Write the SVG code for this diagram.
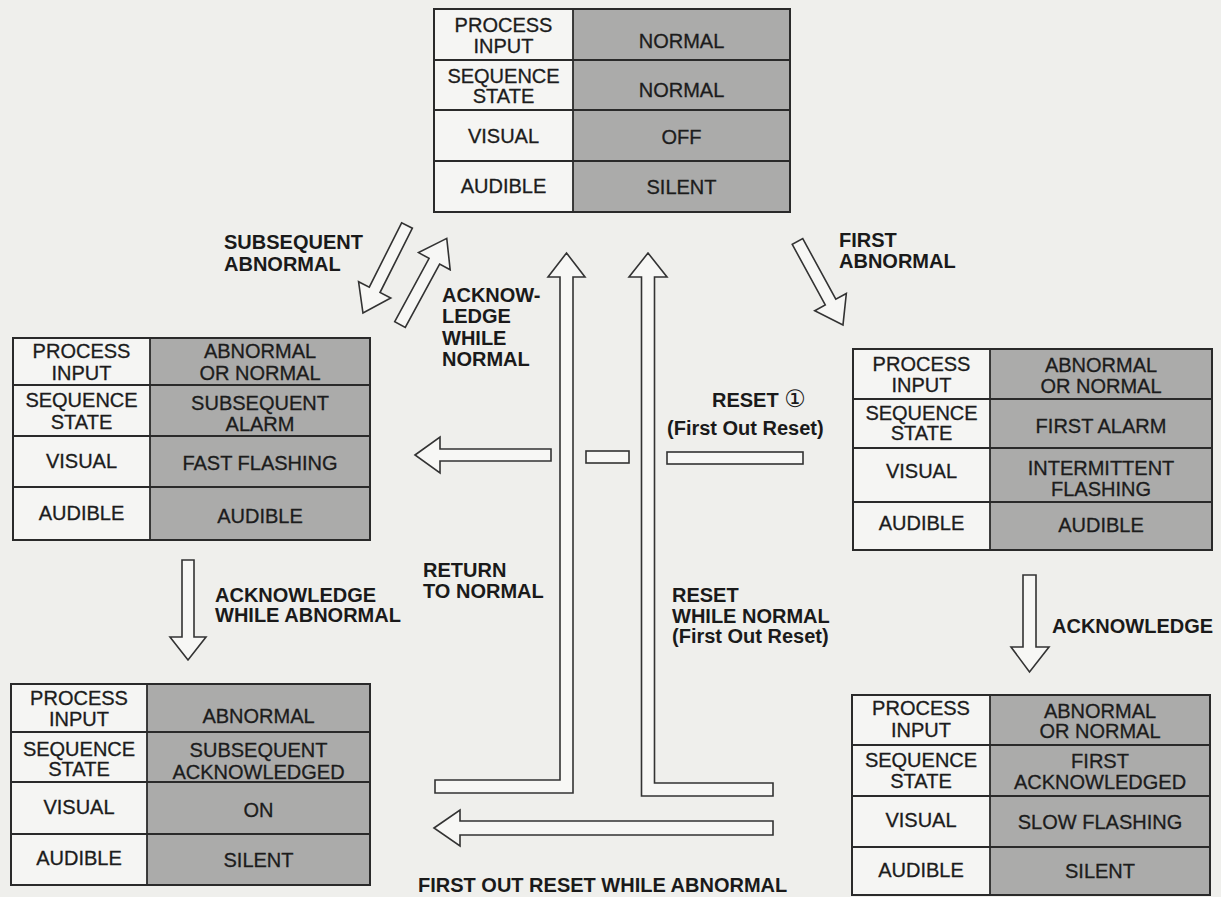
<svg xmlns="http://www.w3.org/2000/svg" width="1221" height="897" viewBox="0 0 1221 897">
<style>
.bg{fill:#efefec}
.lc{fill:#f5f5f3}
.rc{fill:#ababaa}
.box{fill:none;stroke:#2a2a2a;stroke-width:2}
.rl{stroke:#2a2a2a;stroke-width:1.8}
.t{font-family:"Liberation Sans",Arial,sans-serif;font-size:20px;fill:#1c1c1c;stroke:#1c1c1c;stroke-width:0.3;text-anchor:middle}
.lab{font-family:"Liberation Sans",Arial,sans-serif;font-size:20px;font-weight:bold;fill:#1a1a1a}
.arr{fill:#f7f7f5;stroke:#333;stroke-width:1.6;stroke-linejoin:miter}
</style>
<rect class="bg" x="0" y="0" width="1221" height="897"/>

<g id="connectors">
<polygon class="arr" transform="translate(407,225.5) rotate(116.7)" points="0,-6 72,-6 72,-18 98,0 72,18 72,6 0,6"/>
<polygon class="arr" transform="translate(400,324.5) rotate(-61.5)" points="0,-6 72,-6 72,-18 98,0 72,18 72,6 0,6"/>
<polygon class="arr" transform="translate(797.5,241.5) rotate(61.4)" points="0,-6 69,-6 69,-18 95,0 69,18 69,6 0,6"/>
<polygon class="arr" points="182,560 194,560 194,637 206,637 188,660 170,637 182,637"/>
<polygon class="arr" points="1023,575 1036,575 1036,647 1049,647 1029.5,672 1011,647 1023,647"/>
<polygon class="arr" points="415,455 440,437 440,449 551,449 551,461 440,461 440,473"/>
<rect class="arr" x="586" y="451" width="43" height="12"/>
<rect class="arr" x="667" y="452" width="136" height="12"/>
<polygon class="arr" points="566.5,253 585,277 573,277 573,793 435,793 435,780 560,780 560,277 548,277"/>
<polygon class="arr" points="648,253 667,277 654.5,277 654.5,783 773,783 773,796 641.5,796 641.5,277 629,277"/>
<polygon class="arr" points="434,828 460,810 460,821 773,821 773,835 460,835 460,846"/>
</g>

<g id="node-normal">
<rect class="lc" x="434" y="9" width="139" height="203"/>
<rect class="rc" x="573" y="9" width="217" height="203"/>
<line class="rl" x1="434" y1="60" x2="790" y2="60"/>
<line class="rl" x1="434" y1="110" x2="790" y2="110"/>
<line class="rl" x1="434" y1="161" x2="790" y2="161"/>
<line class="rl" x1="573" y1="9" x2="573" y2="212"/>
<rect class="box" x="434" y="9" width="356" height="203"/>
<text class="t" x="503.5" y="32">PROCESS</text>
<text class="t" x="503.5" y="53">INPUT</text>
<text class="t" x="681.5" y="48">NORMAL</text>
<text class="t" x="503.5" y="83">SEQUENCE</text>
<text class="t" x="503.5" y="103">STATE</text>
<text class="t" x="681.5" y="97">NORMAL</text>
<text class="t" x="503.5" y="143">VISUAL</text>
<text class="t" x="681.5" y="144">OFF</text>
<text class="t" x="503.5" y="193">AUDIBLE</text>
<text class="t" x="681.5" y="194">SILENT</text>
</g>

<g id="node-subsequent-alarm">
<rect class="lc" x="13" y="338" width="137" height="202"/>
<rect class="rc" x="150" y="338" width="220" height="202"/>
<line class="rl" x1="13" y1="385" x2="370" y2="385"/>
<line class="rl" x1="13" y1="436" x2="370" y2="436"/>
<line class="rl" x1="13" y1="487" x2="370" y2="487"/>
<line class="rl" x1="150" y1="338" x2="150" y2="540"/>
<rect class="box" x="13" y="338" width="357" height="202"/>
<text class="t" x="81.5" y="358">PROCESS</text>
<text class="t" x="81.5" y="380">INPUT</text>
<text class="t" x="260" y="358">ABNORMAL</text>
<text class="t" x="260" y="380">OR NORMAL</text>
<text class="t" x="81.5" y="407">SEQUENCE</text>
<text class="t" x="81.5" y="429">STATE</text>
<text class="t" x="260" y="410">SUBSEQUENT</text>
<text class="t" x="260" y="431">ALARM</text>
<text class="t" x="81.5" y="468">VISUAL</text>
<text class="t" x="260" y="470">FAST FLASHING</text>
<text class="t" x="81.5" y="520">AUDIBLE</text>
<text class="t" x="260" y="523">AUDIBLE</text>
</g>

<g id="node-first-alarm">
<rect class="lc" x="853" y="349" width="137" height="201"/>
<rect class="rc" x="990" y="349" width="222" height="201"/>
<line class="rl" x1="853" y1="399" x2="1212" y2="399"/>
<line class="rl" x1="853" y1="448" x2="1212" y2="448"/>
<line class="rl" x1="853" y1="502" x2="1212" y2="502"/>
<line class="rl" x1="990" y1="349" x2="990" y2="550"/>
<rect class="box" x="853" y="349" width="359" height="201"/>
<text class="t" x="921.5" y="371">PROCESS</text>
<text class="t" x="921.5" y="392">INPUT</text>
<text class="t" x="1101" y="372">ABNORMAL</text>
<text class="t" x="1101" y="393">OR NORMAL</text>
<text class="t" x="921.5" y="420">SEQUENCE</text>
<text class="t" x="921.5" y="440">STATE</text>
<text class="t" x="1101" y="433">FIRST ALARM</text>
<text class="t" x="921.5" y="478">VISUAL</text>
<text class="t" x="1101" y="475">INTERMITTENT</text>
<text class="t" x="1101" y="496">FLASHING</text>
<text class="t" x="921.5" y="530">AUDIBLE</text>
<text class="t" x="1101" y="532">AUDIBLE</text>
</g>

<g id="node-subsequent-acknowledged">
<rect class="lc" x="11" y="684" width="136" height="201"/>
<rect class="rc" x="147" y="684" width="223" height="201"/>
<line class="rl" x1="11" y1="732" x2="370" y2="732"/>
<line class="rl" x1="11" y1="782" x2="370" y2="782"/>
<line class="rl" x1="11" y1="834" x2="370" y2="834"/>
<line class="rl" x1="147" y1="684" x2="147" y2="885"/>
<rect class="box" x="11" y="684" width="359" height="201"/>
<text class="t" x="79" y="705">PROCESS</text>
<text class="t" x="79" y="726">INPUT</text>
<text class="t" x="258.5" y="723">ABNORMAL</text>
<text class="t" x="79" y="756">SEQUENCE</text>
<text class="t" x="79" y="776">STATE</text>
<text class="t" x="258.5" y="757">SUBSEQUENT</text>
<text class="t" x="258.5" y="779">ACKNOWLEDGED</text>
<text class="t" x="79" y="814">VISUAL</text>
<text class="t" x="258.5" y="817">ON</text>
<text class="t" x="79" y="865">AUDIBLE</text>
<text class="t" x="258.5" y="867">SILENT</text>
</g>

<g id="node-first-acknowledged">
<rect class="lc" x="852" y="695" width="138" height="200"/>
<rect class="rc" x="990" y="695" width="220" height="200"/>
<line class="rl" x1="852" y1="745" x2="1210" y2="745"/>
<line class="rl" x1="852" y1="796" x2="1210" y2="796"/>
<line class="rl" x1="852" y1="847" x2="1210" y2="847"/>
<line class="rl" x1="990" y1="695" x2="990" y2="895"/>
<rect class="box" x="852" y="695" width="358" height="200"/>
<text class="t" x="921" y="715">PROCESS</text>
<text class="t" x="921" y="737">INPUT</text>
<text class="t" x="1100" y="718">ABNORMAL</text>
<text class="t" x="1100" y="738">OR NORMAL</text>
<text class="t" x="921" y="767">SEQUENCE</text>
<text class="t" x="921" y="788">STATE</text>
<text class="t" x="1100" y="768">FIRST</text>
<text class="t" x="1100" y="789">ACKNOWLEDGED</text>
<text class="t" x="921" y="827">VISUAL</text>
<text class="t" x="1100" y="829">SLOW FLASHING</text>
<text class="t" x="921" y="877">AUDIBLE</text>
<text class="t" x="1100" y="878">SILENT</text>
</g>

<g id="labels">
<text class="lab" x="224" y="249">SUBSEQUENT</text>
<text class="lab" x="224" y="271">ABNORMAL</text>
<text class="lab" x="442" y="302">ACKNOW-</text>
<text class="lab" x="442" y="323">LEDGE</text>
<text class="lab" x="442" y="345">WHILE</text>
<text class="lab" x="442" y="366">NORMAL</text>
<text class="lab" x="839" y="247">FIRST</text>
<text class="lab" x="839" y="268">ABNORMAL</text>
<text class="lab" x="712" y="407">RESET <tspan font-family="DejaVu Sans,sans-serif" font-weight="normal" font-size="24">①</tspan></text>
<text class="lab" x="667" y="435">(First Out Reset)</text>
<text class="lab" x="215" y="602">ACKNOWLEDGE</text>
<text class="lab" x="215" y="622">WHILE ABNORMAL</text>
<text class="lab" x="423" y="577">RETURN</text>
<text class="lab" x="423" y="598">TO NORMAL</text>
<text class="lab" x="672" y="602">RESET</text>
<text class="lab" x="672" y="623">WHILE NORMAL</text>
<text class="lab" x="672" y="643">(First Out Reset)</text>
<text class="lab" x="1052" y="633">ACKNOWLEDGE</text>
<text class="lab" x="418" y="892">FIRST OUT RESET WHILE ABNORMAL</text>
</g>
</svg>
